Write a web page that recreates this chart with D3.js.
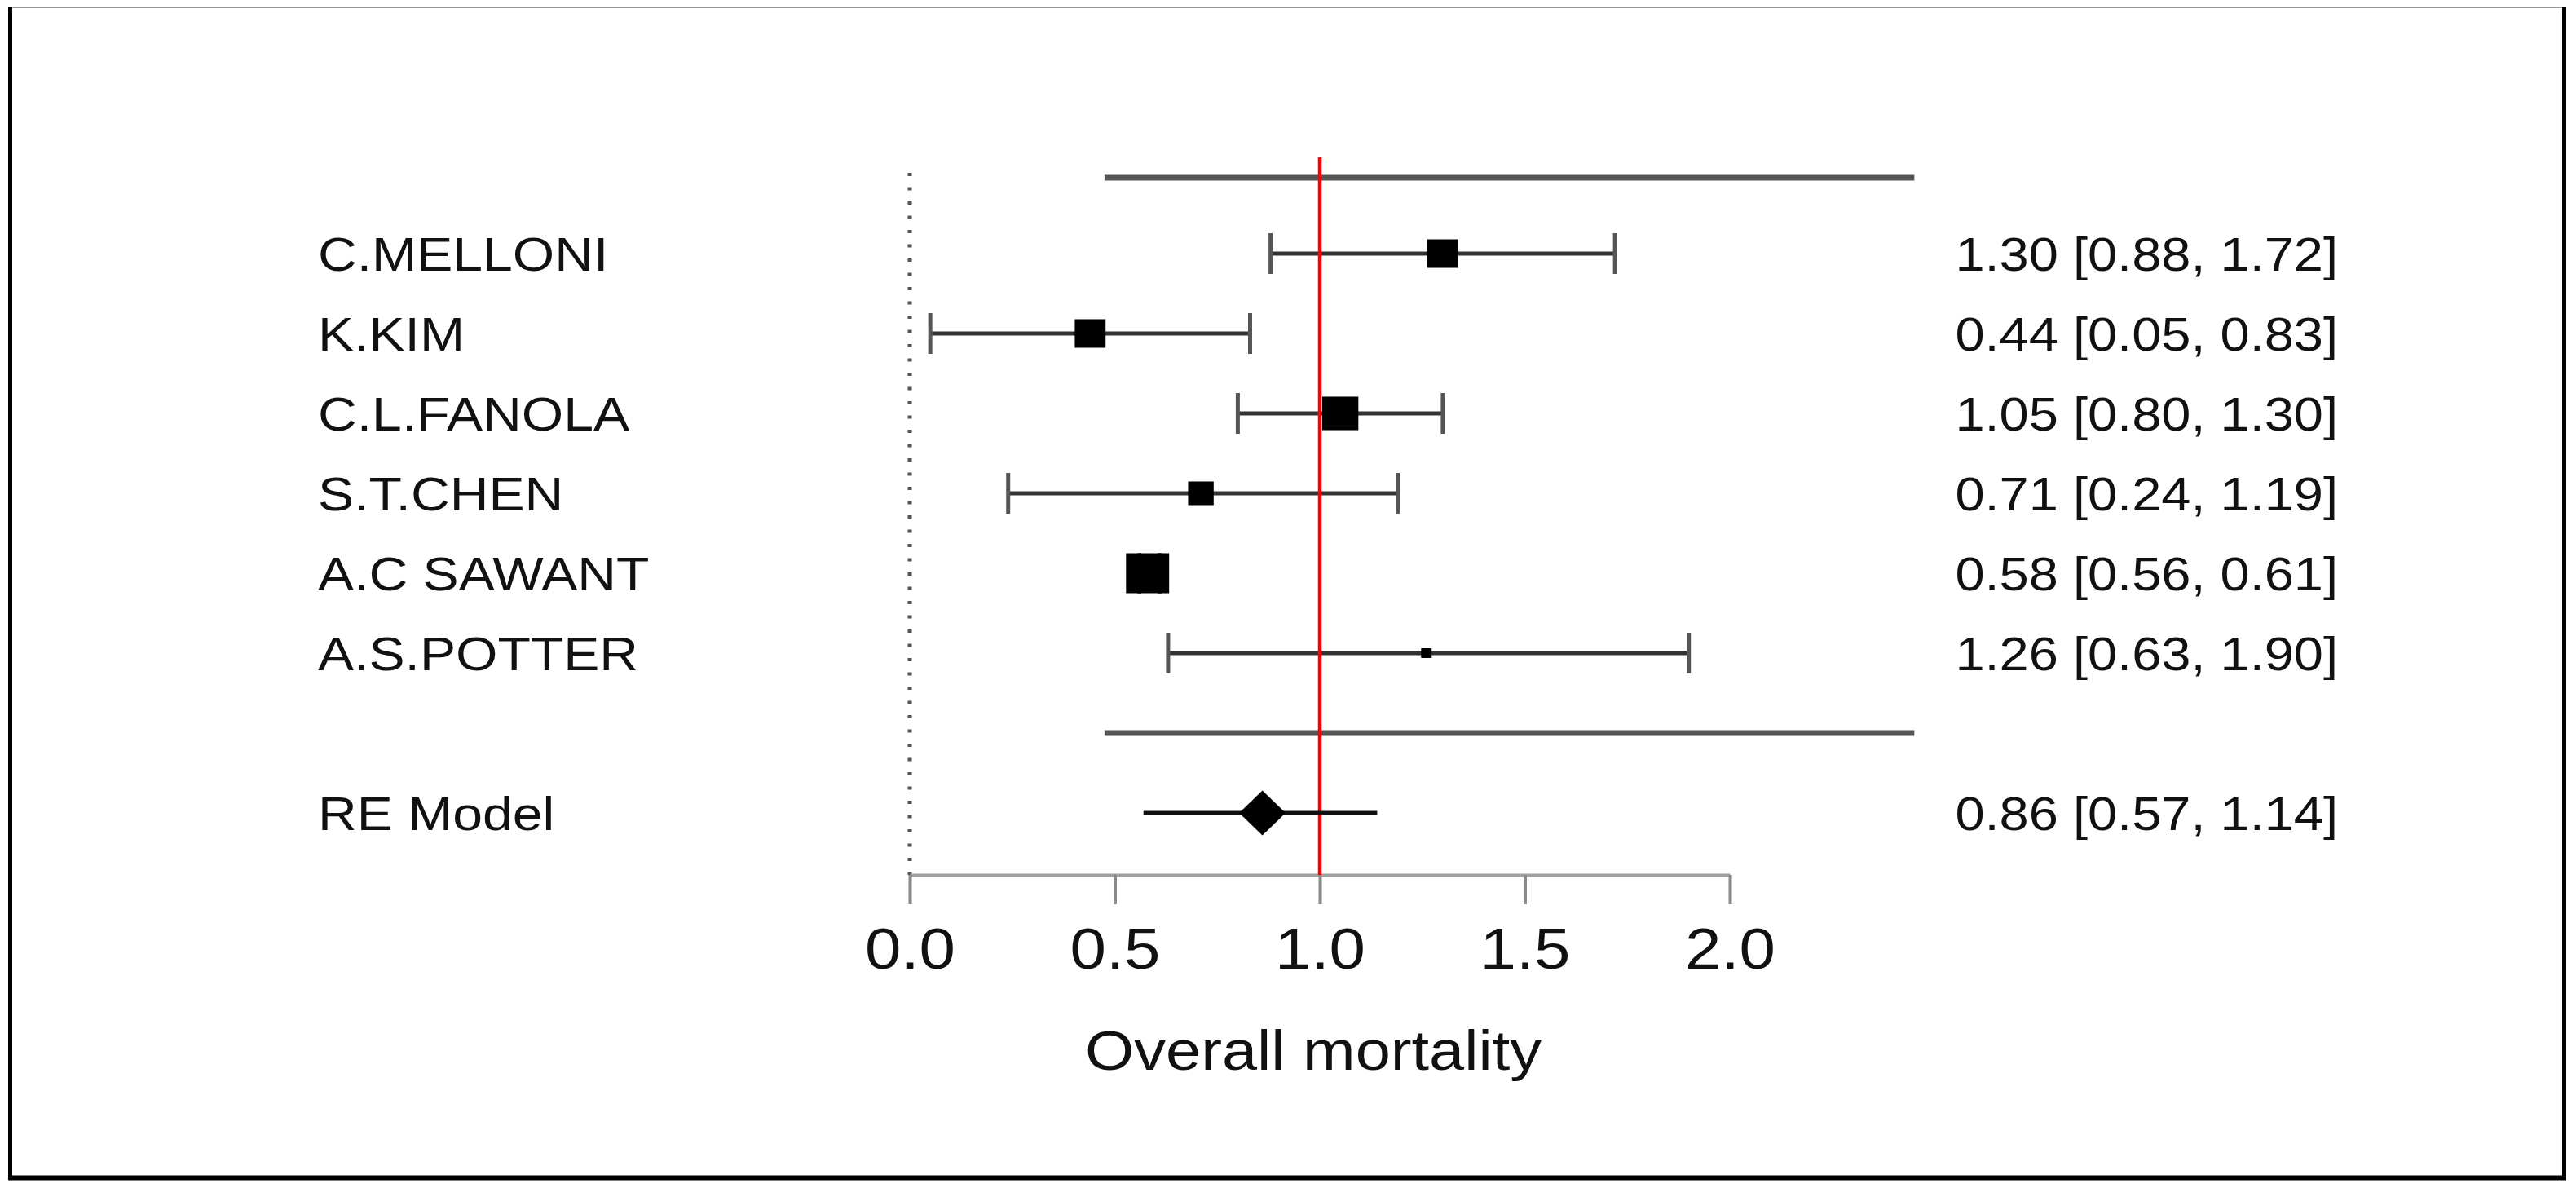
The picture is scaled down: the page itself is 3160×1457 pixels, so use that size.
<!DOCTYPE html>
<html><head><meta charset="utf-8">
<script src="https://cdn.jsdelivr.net/npm/d3@7"></script>
<style>html,body{margin:0;padding:0;background:#fff;} svg{display:block;}</style>
</head><body>
<script>
// ---------- data ----------
const studies   = ["C.MELLONI","K.KIM","C.L.FANOLA","S.T.CHEN","A.C SAWANT","A.S.POTTER"];
const estimates = [1.30, 0.44, 1.05, 0.71, 0.58, 1.26];
const lowerCI   = [0.88, 0.05, 0.80, 0.24, 0.56, 0.63];
const upperCI   = [1.72, 0.83, 1.30, 1.19, 0.61, 1.90];
const weights   = [16.3, 16.3, 22.4, 11.2, 31.9, 1.9];   // relative study weights (%)
const summaryLabel  = "RE Model";
const summaryValues = [0.86, 0.57, 1.14];                // estimate, lower, upper
const xTicks      = [0, 0.5, 1, 1.5, 2];
const xTickLabels = ["0.0", "0.5", "1.0", "1.5", "2.0"];
const axisTitle = "Overall mortality";
const refValue  = 1;
const nullValue = 0;
const sepExtent = [0.475, 2.45];

// ---------- layout ----------
const W = 3160, H = 1457;
const FONT = "'Liberation Sans', Arial, Helvetica, sans-serif";
const SX = 1.14; // horizontal text stretch seen in the reference
const svg = d3.select("body").append("svg").attr("width", W).attr("height", H)
  .style("background", "#fff");

const x = d3.scaleLinear().domain([0, 2]).range([1116, 2122]);
const y = d3.scaleLinear().domain([-1, 6]).range([997, 311]);
const sizeScale = d3.scaleSqrt().domain([0, d3.max(weights)]).range([0, 49]);

const rows = studies.map((s, i) => ({
  name: s, est: estimates[i], lo: lowerCI[i], hi: upperCI[i], w: weights[i], row: studies.length - i
}));
const fmt = d3.format(".2f");
const axisY = 1073;

// frame
svg.append("line").attr("x1", 12).attr("x2", 3146).attr("y1", 9).attr("y2", 9)
  .attr("stroke", "#999").attr("stroke-width", 2);
svg.append("line").attr("x1", 12.5).attr("x2", 12.5).attr("y1", 8).attr("y2", 1447)
  .attr("stroke", "#000").attr("stroke-width", 5);
svg.append("line").attr("x1", 3145.5).attr("x2", 3145.5).attr("y1", 8).attr("y2", 1447)
  .attr("stroke", "#000").attr("stroke-width", 5);
svg.append("line").attr("x1", 10).attr("x2", 3148).attr("y1", 1444.5).attr("y2", 1444.5)
  .attr("stroke", "#000").attr("stroke-width", 6);

// dotted null line
svg.append("line").attr("x1", x(nullValue)).attr("x2", x(nullValue))
  .attr("y1", 212).attr("y2", axisY)
  .attr("stroke", "#555").attr("stroke-width", 5).attr("stroke-dasharray", "4 13.5");

// separator lines
svg.selectAll(".sep").data([6.95, 0]).join("line").attr("class", "sep")
  .attr("x1", x(sepExtent[0])).attr("x2", x(sepExtent[1]))
  .attr("y1", d => y(d)).attr("y2", d => y(d))
  .attr("stroke", "#555").attr("stroke-width", 7);

// axis
const axis = d3.axisBottom(x).tickValues(xTicks)
  .tickFormat((d, i) => xTickLabels[i]).tickSize(36).tickSizeOuter(0);
const ag = svg.append("g").attr("transform", `translate(0,${axisY})`).call(axis);
ag.select(".domain").attr("stroke", "#a0a0a0").attr("stroke-width", 4);
ag.selectAll(".tick line").attr("stroke", "#8a8a8a").attr("stroke-width", 4);
ag.selectAll(".tick text").attr("fill", "#111").attr("font-family", FONT)
  .attr("font-size", 70).attr("y", 0).attr("dy", 0)
  .attr("transform", `translate(0,115) scale(${SX},1)`);

// axis title
svg.append("text").attr("transform", `translate(${x(1) - 8},1312) scale(${SX},1)`)
  .attr("text-anchor", "middle").attr("font-family", FONT).attr("font-size", 68)
  .attr("fill", "#111").text(axisTitle);

// whiskers
const g = svg.append("g");
g.selectAll(".ci").data(rows).join("line").attr("class", "ci")
  .attr("x1", d => x(d.lo)).attr("x2", d => x(d.hi))
  .attr("y1", d => y(d.row)).attr("y2", d => y(d.row))
  .attr("stroke", "#333").attr("stroke-width", 5);
g.selectAll(".capL").data(rows).join("line").attr("class", "capL")
  .attr("x1", d => x(d.lo)).attr("x2", d => x(d.lo))
  .attr("y1", d => y(d.row) - 25).attr("y2", d => y(d.row) + 25)
  .attr("stroke", "#555").attr("stroke-width", 5);
g.selectAll(".capR").data(rows).join("line").attr("class", "capR")
  .attr("x1", d => x(d.hi)).attr("x2", d => x(d.hi))
  .attr("y1", d => y(d.row) - 25).attr("y2", d => y(d.row) + 25)
  .attr("stroke", "#555").attr("stroke-width", 5);

// red reference line
svg.append("line").attr("x1", x(refValue)).attr("x2", x(refValue))
  .attr("y1", 193).attr("y2", axisY)
  .attr("stroke", "#ff0000").attr("stroke-width", 4.5);

// squares (drawn over red line)
g.selectAll(".pt").data(rows).join("rect").attr("class", "pt")
  .attr("x", d => x(d.est) - sizeScale(d.w) * 1.08 / 2)
  .attr("y", d => y(d.row) - sizeScale(d.w) / 2)
  .attr("width", d => sizeScale(d.w) * 1.08)
  .attr("height", d => sizeScale(d.w))
  .attr("fill", "#000");

// summary
const sRow = -1;
svg.append("line").attr("x1", x(summaryValues[1])).attr("x2", x(summaryValues[2]))
  .attr("y1", y(sRow)).attr("y2", y(sRow)).attr("stroke", "#111").attr("stroke-width", 5);
const cx = x(summaryValues[0]), cy = y(sRow);
svg.append("path")
  .attr("d", d3.line()([[cx - 28.5, cy], [cx, cy - 27.5], [cx + 28.5, cy], [cx, cy + 27.5]]) + "Z")
  .attr("fill", "#000");

// left labels
const allLabels = rows.map(d => ({ t: d.name, row: d.row }))
  .concat([{ t: summaryLabel, row: sRow }]);
svg.selectAll(".lab").data(allLabels).join("text").attr("class", "lab")
  .attr("transform", d => `translate(390,${y(d.row) + 21}) scale(${SX},1)`)
  .attr("font-family", FONT).attr("font-size", 58).attr("fill", "#111")
  .text(d => d.t);

// right annotations
const ann = rows.map(d => ({ t: `${fmt(d.est)} [${fmt(d.lo)}, ${fmt(d.hi)}]`, row: d.row }))
  .concat([{ t: `${fmt(summaryValues[0])} [${fmt(summaryValues[1])}, ${fmt(summaryValues[2])}]`, row: sRow }]);
svg.selectAll(".ann").data(ann).join("text").attr("class", "ann")
  .attr("transform", d => `translate(2868,${y(d.row) + 21}) scale(${SX},1)`)
  .attr("text-anchor", "end")
  .attr("font-family", FONT).attr("font-size", 57).attr("fill", "#111")
  .text(d => d.t);
</script>
</body></html>
